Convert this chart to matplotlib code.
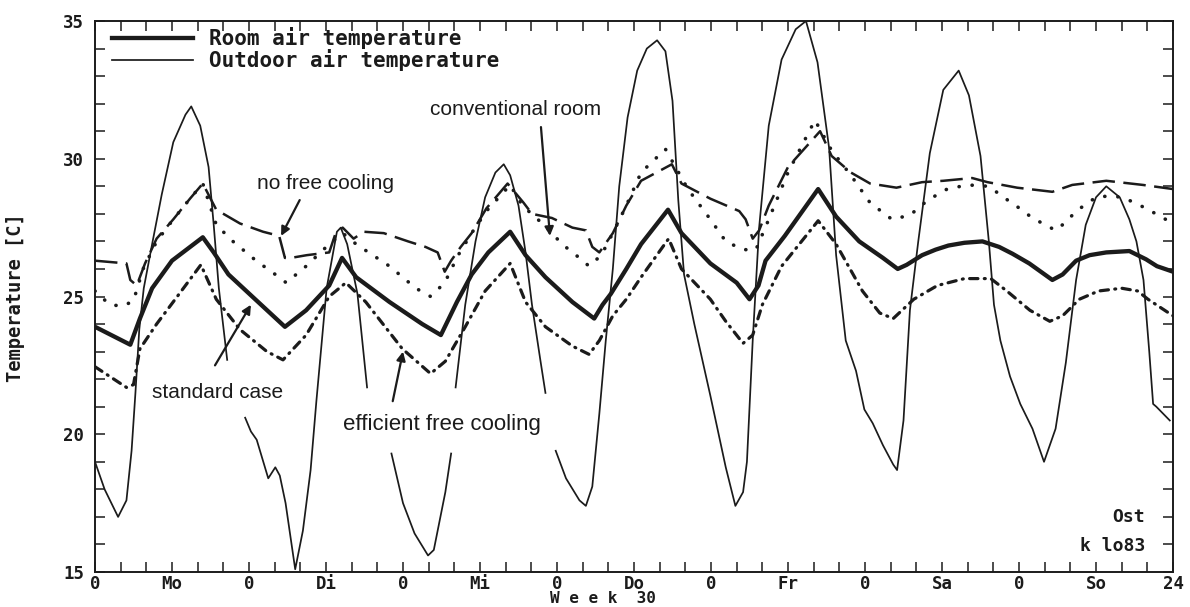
import numpy as np
import matplotlib
matplotlib.use("Agg")
import matplotlib.pyplot as plt
from matplotlib.ticker import MultipleLocator, FixedLocator, FixedFormatter

nan = np.nan

# ---------------- data (hours of week 30, temperature in C) ----------------
h_out = [0, 1.5, 3.6, 4.9, 5.7, 6.3, 6.9, 7.6, 8.9, 10.4, 12.2, 14.1, 15.0, 16.4, 17.7, 18.5, 19.3, 20.1, 20.6, 22.0,
         23.4, 24.3, 25.2, 26.1, 27.0, 28.1, 28.8, 29.7, 31.2, 32.4, 33.6, 34.5, 36.1, 37.7, 38.3, 39.3, 40.9, 42.4, 44.0,
         46.2, 48.0, 49.8, 51.9, 52.8, 54.6, 55.5, 55.8,
         56.2, 57.7, 59.3, 60.8, 62.4, 63.7, 64.7, 66.0, 67.1, 68.1, 69.4, 70.2, 71.0,
         71.8, 73.4, 75.5, 76.5, 77.5, 78.6, 79.6, 80.7, 81.7, 83.0, 84.5, 86.0, 87.6, 88.9, 90.0, 90.9, 91.8, 93.4,
         95.9, 98.3, 99.8, 101.0, 101.6, 102.5, 103.5, 105.0, 107.0, 109.2, 110.8, 112.6, 114.4, 115.5, 117.0, 118.6,
         119.9, 121.2, 122.8, 124.4, 125.0, 126.0, 127.0, 128.3, 130.1, 132.2, 134.6, 136.2, 138.0, 139.3, 140.1, 141.1,
         142.6, 144.2, 146.1, 147.9, 149.7, 151.3, 152.9, 154.4, 156.0, 157.6, 159.7, 161.2, 162.3, 163.4, 164.3, 164.9,
         165.4, 167.5]
t_out = [19.0, 18.0, 17.0, 17.6, 19.4, 21.5, 23.8, 25.3, 26.9, 28.7, 30.6, 31.6, 31.9, 31.2, 29.7, 27.6, 25.3, 23.7, 22.7, nan,
         20.6, 20.1, 19.8, 19.1, 18.4, 18.8, 18.5, 17.5, 15.1, 16.5, 18.7, 21.2, 25.3, 27.35, 27.5, 26.9, 25.1, 21.7, nan,
         19.3, 17.5, 16.4, 15.6, 15.8, 17.9, 19.3, nan,
         21.7, 24.7, 27.0, 28.6, 29.5, 29.8, 29.4, 28.3, 26.6, 24.7, 22.7, 21.5, nan,
         19.4, 18.4, 17.6, 17.4, 18.1, 20.75, 23.4, 26.0, 29.0, 31.5, 33.2, 34.0, 34.3, 33.9, 32.1, 28.5, 25.8, 24.0,
         21.4, 18.8, 17.4, 17.9, 19.0, 23.4, 27.5, 31.2, 33.6, 34.7, 35.0, 33.5, 30.4, 26.5, 23.4, 22.3,
         20.9, 20.4, 19.6, 18.9, 18.7, 20.5, 24.5, 27.0, 30.2, 32.5, 33.2, 32.3, 30.1, 27.0, 24.7, 23.4,
         22.1, 21.1, 20.2, 19.0, 20.2, 22.6, 25.6, 27.6, 28.6, 29.0, 28.6, 27.8, 27.0, 25.6, 23.0, 21.1,
         21.0, 20.5]

h_std = [0, 5.5, 7.0, 8.9, 12.0, 16.8, 18.5, 20.8, 24.5, 29.6, 32.9, 36.5, 38.5, 40.7, 45.9, 51.0, 53.9, 56.4, 58.7,
         61.3, 64.7, 67.1, 70.2, 74.4, 77.8, 79.1, 80.4, 82.8, 85.1, 89.3, 91.4, 95.9, 100.0, 102.0, 103.4, 104.5,
         107.5, 112.7, 115.5, 119.1, 122.8, 125.1, 126.5, 128.9, 131.0, 133.0, 135.5, 138.3, 140.9, 143.0,
         145.6, 149.2, 150.8, 152.9, 155.0, 157.6, 161.2, 163.8, 165.5, 168]
t_std = [23.9, 23.25, 24.2, 25.3, 26.3, 27.15, 26.6, 25.8, 25.0, 23.9, 24.5, 25.4, 26.4, 25.7, 24.8, 24.0, 23.6, 24.8, 25.8,
         26.6, 27.35, 26.5, 25.7, 24.8, 24.2, 24.7, 25.1, 26.0, 26.9, 28.15, 27.3, 26.2, 25.5, 24.9, 25.4, 26.3,
         27.2, 28.9, 27.9, 27.0, 26.4, 26.0, 26.15, 26.5, 26.7, 26.85, 26.95, 27.0, 26.8, 26.55,
         26.2, 25.6, 25.8, 26.3, 26.5, 26.6, 26.65, 26.35, 26.1, 25.9]

h_eff = [0, 4.9, 6.0, 7.0, 9.6, 12.5, 16.5, 18.9, 22.6, 26.8, 29.3, 32.9, 36.5, 39.1, 42.2, 47.9, 52.3, 54.6, 57.7,
         60.8, 64.7, 67.1, 70.2, 74.4, 77.0, 78.6, 80.7, 82.8, 85.1, 89.4, 91.4, 95.9, 98.3, 101.0, 102.5, 104.0,
         107.0, 112.7, 115.5, 119.6, 122.3, 124.4, 127.6, 131.3, 135.5, 139.6, 142.1, 145.7, 148.8, 150.8, 153.4,
         156.4, 160.0, 162.5, 164.1, 168]
t_eff = [22.45, 21.7, 21.8, 23.1, 24.0, 24.9, 26.15, 24.9, 23.8, 23.0, 22.7, 23.6, 25.0, 25.5, 24.8, 23.1, 22.2, 22.65, 23.9,
         25.2, 26.2, 24.8, 23.9, 23.2, 22.9, 23.4, 24.3, 24.9, 25.7, 27.1, 26.0, 24.9, 24.1, 23.3, 23.6, 24.7,
         26.1, 27.75, 26.9, 25.2, 24.4, 24.2, 24.9, 25.4, 25.65, 25.65, 25.2, 24.5, 24.1, 24.3, 24.9,
         25.2, 25.3, 25.2, 24.9, 24.3]

h_conv = [0, 2.3, 4.4, 6.0, 7.5, 9.6, 12.2, 14.8, 16.8, 18.9, 21.5, 25.1, 28.1, 29.8, 32.9, 36.5, 38.6, 40.7, 45.9,
          50.0, 52.3, 54.5, 56.6, 58.7, 61.0, 64.7, 66.6, 70.2, 72.8, 75.5, 77.0, 78.9, 80.7, 82.8, 85.1, 88.9,
          92.4, 95.9, 98.3, 101.0, 103.0, 105.0, 108.0, 112.2, 114.8, 117.8, 120.8, 124.2, 127.0, 129.8, 132.8,
          136.0, 139.3, 141.6, 143.5, 146.1, 149.7, 151.3, 152.9, 156.0, 158.0, 160.2, 162.0, 163.8, 168]
t_conv = [25.2, 24.7, 24.65, 24.85, 26.0, 27.0, 27.8, 28.55, 29.1, 27.6, 27.0, 26.3, 25.8, 25.5, 26.1, 26.9, 27.3, 26.9, 26.1,
          25.3, 25.0, 25.5, 26.5, 27.3, 28.1, 29.05, 28.3, 27.55, 26.9, 26.4, 26.1, 26.5, 27.3, 28.3, 29.5, 30.35,
          28.9, 27.8, 27.0, 26.7, 26.7, 27.8, 29.5, 31.4, 30.3, 29.4, 28.4, 27.8, 27.95, 28.5, 28.9,
          29.05, 29.0, 28.6, 28.3, 27.85, 27.4, 27.7, 28.1, 28.6, 28.65, 28.6, 28.4, 28.2, 27.65]

h_nfc = [0, 4.9, 5.5, 6.5, 7.8, 9.6, 12.2, 14.8, 16.8, 18.9, 22.6, 26.2, 28.7, 29.6, 30.5, 33.0, 36.5, 37.5, 38.6,
         40.3, 41.9, 45.0, 48.8, 51.5, 53.4, 54.5, 55.5, 57.0, 58.7, 61.0, 64.3, 66.8, 68.1, 71.2, 74.4, 76.5,
         77.5, 78.6, 80.7, 82.8, 85.1, 89.9, 91.4, 95.9, 100.4, 101.4, 102.5, 103.5, 105.0, 108.0, 113.0, 114.8,
         117.8, 120.8, 124.9, 128.9, 132.2, 136.7, 139.1, 143.7, 149.2, 152.3, 157.6, 163.3, 168]
t_nfc = [26.3, 26.2, 25.6, 25.4, 26.2, 27.1, 27.8, 28.55, 29.1, 28.15, 27.65, 27.35, 27.2, 26.4, 26.4, 26.5, 26.6, 27.3, 27.5,
         27.1, 27.35, 27.3, 27.0, 26.8, 26.6, 25.9, 26.3, 26.8, 27.3, 28.2, 29.1, 28.4, 28.0, 27.85, 27.5, 27.4,
         26.8, 26.6, 27.3, 28.3, 29.2, 29.8, 29.1, 28.55, 28.1, 27.8, 27.1, 27.4, 28.3, 29.7, 31.0, 30.1,
         29.5, 29.1, 28.95, 29.15, 29.2, 29.3, 29.15, 28.95, 28.8, 29.05, 29.2, 29.05, 28.9]

tick_hours = [0, 12, 24, 36, 48, 60, 72, 84, 96, 108, 120, 132, 144, 156, 168]
tick_names = ['0', 'Mo', '0', 'Di', '0', 'Mi', '0', 'Do', '0', 'Fr', '0', 'Sa', '0', 'So', '24']

# ---------------- figure ----------------
INK = '#1b1b1b'
MONO = ['DejaVu Sans Mono']
NARROW = ['Liberation Sans Narrow', 'Liberation Sans', 'DejaVu Sans']

fig = plt.figure(figsize=(11.9, 6.07), dpi=100)
W, H = 1190.0, 607.0
L, R, T, B = 95, 1173, 21, 572
ax = fig.add_axes([L / W, 1 - B / H, (R - L) / W, (B - T) / H])
ax.set_xlim(0, 168)
ax.set_ylim(15, 35)

out_line, = ax.plot(h_out, t_out, color=INK, lw=1.25, solid_joinstyle='round', zorder=3)
ax.plot(h_nfc, t_nfc, color=INK, lw=1.8, linestyle=(0, (9.0, 3.4)), zorder=4)
ax.plot(h_conv, t_conv, color=INK, lw=2.6, linestyle=(0, (0.05, 3.6)), dash_capstyle='round', zorder=4)
ax.plot(h_eff, t_eff, color=INK, lw=2.3, linestyle=(0, (2.6, 2.0, 0.3, 2.0)), dash_capstyle='round', zorder=4)
std_line, = ax.plot(h_std, t_std, color=INK, lw=3.1, solid_joinstyle='round', zorder=5)

# axes styling
for sp in ax.spines.values():
    sp.set_linewidth(1.4)
    sp.set_color(INK)

ax.xaxis.set_major_locator(FixedLocator(tick_hours))
ax.xaxis.set_major_formatter(FixedFormatter(tick_names))
ax.xaxis.set_minor_locator(MultipleLocator(4))
ax.yaxis.set_major_locator(MultipleLocator(5))
ax.yaxis.set_minor_locator(MultipleLocator(1))
ax.tick_params(which='both', direction='in', top=True, right=True, color=INK, width=1.1, length=7)
ax.tick_params(axis='x', which='major', pad=2)
ax.tick_params(axis='y', which='major', pad=8)
for lab in ax.get_xticklabels() + ax.get_yticklabels():
    lab.set_fontfamily(MONO)
    lab.set_fontweight('bold')
    lab.set_fontsize(12.5)
    lab.set_color(INK)

# legend
leg = ax.legend([std_line, out_line], ['Room air temperature', 'Outdoor air temperature'],
                loc='upper left', bbox_to_anchor=(0.004, 1.012), frameon=False,
                handlelength=3.9, handletextpad=0.75, labelspacing=0.0, borderaxespad=0.2,
                prop=dict(family=MONO, weight='bold', size=15))
for t in leg.get_texts():
    t.set_color(INK)

# axis titles
fig.text(16 / W, 1 - 298 / H, 'Temperature [C]', rotation=90, ha='center', va='center',
         family=MONO, weight='bold', fontsize=13.5, color=INK)
fig.text(603 / W, 1.0 / H, 'W e e k  30', ha='center', va='bottom',
         family=MONO, weight='bold', fontsize=11.5, color=INK)

# corner texts
ax.text(163.6, 17.0, 'Ost', ha='right', va='center', family=MONO, weight='bold', fontsize=13, color=INK)
ax.text(163.6, 15.95, 'k lo83', ha='right', va='center', family=MONO, weight='bold', fontsize=13, color=INK)

# annotations
ann_font = dict(family=NARROW, fontsize=15, color=INK, ha='center', va='center')
arrow = dict(arrowstyle='-|>', color=INK, lw=1.6, mutation_scale=13, shrinkA=0, shrinkB=0)

ax.text(36.0, 29.1, 'no free cooling', **ann_font)
ax.annotate('', xy=(29.0, 27.2), xytext=(31.9, 28.5), arrowprops=arrow)

ax.text(65.6, 31.8, 'conventional room', **ann_font)
ax.annotate('', xy=(70.9, 27.2), xytext=(69.5, 31.15), arrowprops=arrow)

ax.text(19.1, 21.5, 'standard case', **ann_font)
ax.annotate('', xy=(24.3, 24.7), xytext=(18.7, 22.5), arrowprops=arrow)

ax.text(54.0, 20.35, 'efficient free cooling', family=NARROW, fontsize=16, color=INK, ha='center', va='center')
ax.annotate('', xy=(48.0, 23.0), xytext=(46.4, 21.2), arrowprops=arrow)

fig.savefig('out.png', dpi=100)
